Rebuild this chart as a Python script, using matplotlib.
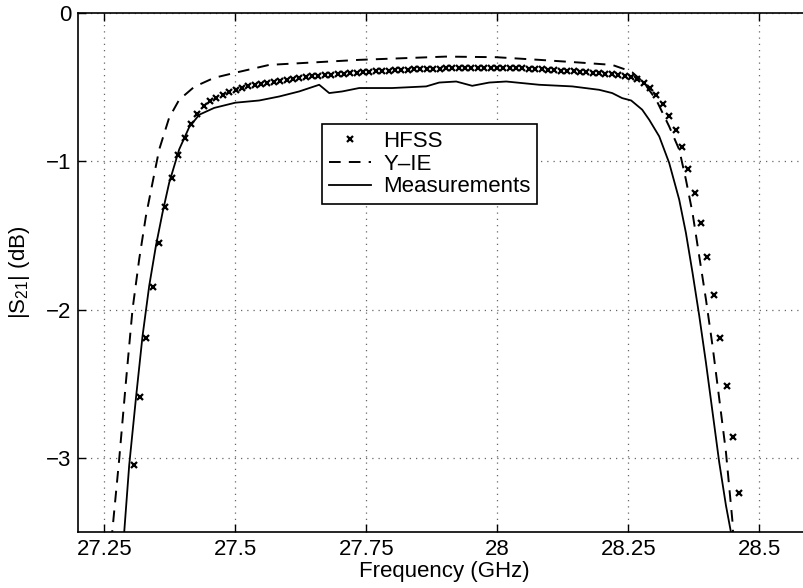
import numpy as np
import matplotlib
matplotlib.use("Agg")
import matplotlib.pyplot as plt

plt.rcParams['font.family'] = ['Liberation Sans', 'DejaVu Sans']
plt.rcParams['mathtext.fontset'] = 'custom'
plt.rcParams['mathtext.rm'] = 'Liberation Sans'
plt.rcParams['mathtext.it'] = 'Liberation Sans'

# ---------------- data ----------------
hfss_f = np.linspace(27.306, 28.462, 96)
hfss_db = [
    -3.05, -2.59, -2.19, -1.845, -1.553, -1.307, -1.114, -0.955, -0.84, -0.75,
    -0.68, -0.63, -0.595, -0.57, -0.55, -0.533, -0.518, -0.505, -0.495, -0.486,
    -0.478, -0.470, -0.463, -0.456, -0.450, -0.444, -0.438, -0.433, -0.428, -0.423,
    -0.419, -0.415, -0.412, -0.409, -0.406, -0.403, -0.400, -0.397, -0.394, -0.391,
    -0.389, -0.387, -0.385, -0.383, -0.381, -0.379, -0.377, -0.376, -0.375, -0.374,
    -0.373, -0.372, -0.371, -0.371, -0.370, -0.370, -0.370, -0.370, -0.371, -0.372,
    -0.373, -0.374, -0.376, -0.378, -0.380, -0.382, -0.385, -0.388, -0.391, -0.394,
    -0.397, -0.400, -0.403, -0.406, -0.409, -0.413, -0.418, -0.424, -0.433, -0.447,
    -0.470, -0.506, -0.551, -0.612, -0.693, -0.787, -0.906, -1.049, -1.215, -1.414,
    -1.643, -1.903, -2.192, -2.513, -2.86, -3.237,
]

yie_f = [27.262, 27.2653, 27.2786, 27.2914, 27.3040, 27.3168, 27.3296, 27.3422,
         27.3550, 27.3740, 27.3931, 27.4218, 27.4599, 27.5, 27.5649, 27.7366,
         27.9021, 27.9981, 28.0802, 28.1565, 28.2195, 28.2462, 28.2576, 28.2800,
         28.3034, 28.3282, 28.3473, 28.3601, 28.3727, 28.3855, 28.3983, 28.4109,
         28.4237, 28.4365, 28.4490, 28.453]
yie_db = [-3.7, -3.50, -3.01, -2.49, -2.0, -1.66, -1.37, -1.145,
          -0.92, -0.706, -0.585, -0.498, -0.437, -0.403, -0.350, -0.316,
          -0.294, -0.298, -0.316, -0.334, -0.35, -0.383, -0.40, -0.47,
          -0.585, -0.765, -0.921, -1.123, -1.347, -1.639, -1.93, -2.244,
          -2.60, -2.96, -3.43, -3.7]

meas_f = [27.284, 27.2882, 27.2977, 27.3105, 27.3231, 27.3359, 27.3487, 27.3613,
          27.3740, 27.3931, 27.4122, 27.4313, 27.4599, 27.5, 27.5458, 27.5840,
          27.6221, 27.6603, 27.6794, 27.7042, 27.7366, 27.7996, 27.8645, 27.8893,
          27.9218, 27.9523, 27.9847, 28.0172, 28.0802, 28.1431, 28.1947, 28.2195,
          28.2385, 28.2557, 28.2767, 28.2901, 28.3092, 28.3282, 28.3473, 28.3601,
          28.3727, 28.3855, 28.3983, 28.4109, 28.4237, 28.4365, 28.4460, 28.452]
meas_db = [-3.75, -3.50, -3.05, -2.60, -2.18, -1.84, -1.57, -1.347,
           -1.145, -0.92, -0.77, -0.686, -0.64, -0.605, -0.59, -0.563,
           -0.529, -0.484, -0.54, -0.529, -0.506, -0.506, -0.495, -0.469,
           -0.462, -0.491, -0.469, -0.462, -0.484, -0.495, -0.518, -0.54,
           -0.574, -0.590, -0.652, -0.72, -0.832, -1.011, -1.258, -1.482,
           -1.75, -2.04, -2.356, -2.69, -3.03, -3.32, -3.50, -3.75]

xticks = [27.25, 27.5, 27.75, 28.0, 28.25, 28.5]
xticklabels = ['27.25', '27.5', '27.75', '28', '28.25', '28.5']
yticks = [0, -1, -2, -3]
yticklabels = ['0', '\u22121', '\u22122', '\u22123']

# ---------------- plot ----------------
fig = plt.figure(figsize=(8.04, 5.88), dpi=100)
ax = fig.add_axes([78 / 804, 56 / 588, 733.6 / 804, 519 / 588])

ax.plot(hfss_f, hfss_db, linestyle='none', marker='x', color='black',
        markersize=4.5, markeredgewidth=1.6, label='HFSS')
ax.plot(yie_f, yie_db, color='black', lw=1.4, dashes=(6.0, 4.2), label='Y\u2013IE')
ax.plot(meas_f, meas_db, color='black', lw=1.3, label='Measurements')

ax.set_xlim(27.2, 28.6)
ax.set_ylim(-3.5, 0)
ax.set_xticks(xticks)
ax.set_xticklabels(xticklabels)
ax.set_yticks(yticks)
ax.set_yticklabels(yticklabels)
ax.tick_params(direction='in', top=True, right=True, length=6, width=1,
               labelsize=16, pad=5)
for s in ax.spines.values():
    s.set_linewidth(1.2)
ax.grid(True, color='0.4', linestyle=(0, (1, 4)), linewidth=0.9)

ax.set_xlabel('Frequency (GHz)', fontsize=16, labelpad=1)
ax.set_ylabel('|S$_{21}$| (dB)', fontsize=16, labelpad=10)

leg = ax.legend(loc='upper left', bbox_to_anchor=(0.3326, 0.786), fontsize=16,
                frameon=True, fancybox=False, edgecolor='black', framealpha=1,
                handlelength=1.9, handletextpad=0.55, borderpad=0.3,
                labelspacing=0.08, borderaxespad=0)
leg.get_frame().set_linewidth(1.2)

fig.savefig('out.png', dpi=100)
